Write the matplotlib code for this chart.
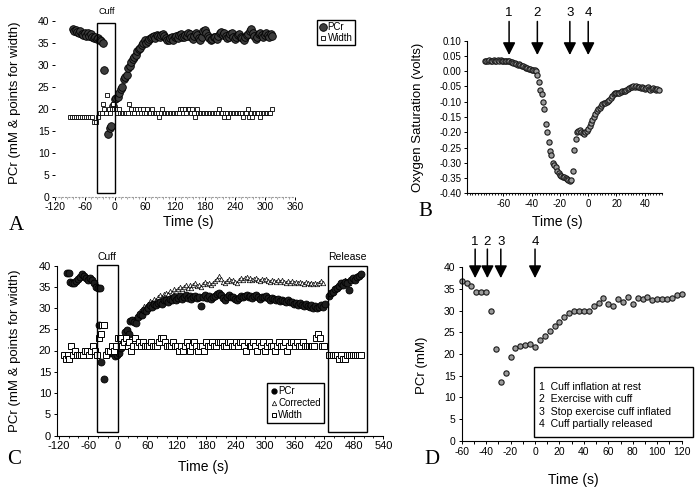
import numpy as np
import matplotlib
matplotlib.use('Agg')
import matplotlib.pyplot as plt
from matplotlib.patches import Rectangle
from matplotlib.lines import Line2D
from matplotlib.ticker import MultipleLocator, FormatStrFormatter

plt.rcParams['font.family'] = ['Liberation Sans', 'DejaVu Sans']
plt.rcParams['axes.unicode_minus'] = False

# ---------------- data ----------------
# Panel A
a_pcr_pre_start, a_pcr_step = -85, 3
a_pcr_pre = [38.0, 37.7, 37.9, 37.4, 37.2, 37.6, 37.0, 36.8, 37.3, 36.6,
             37.1, 36.5, 36.9, 36.3, 36.0, 36.4, 35.8, 36.1, 35.6, 35.3, 34.9]
a_pcr_cuff_t = [-22, -14, -10, -8]
a_pcr_cuff = [28.8, 14.3, 15.6, 16.1]
a_pcr_post_start = -4
a_pcr_post = [20.5, 22.3, 22.5, 22.6, 23.5, 24.5, 25.0, 26.8, 27.3, 27.6,
              29.2, 29.8, 30.5, 31.2, 31.8, 32.3, 33.0, 33.5, 33.8, 34.5,
              35.0, 35.6, 35.0, 35.4, 35.8, 36.0, 36.2, 36.5, 36.0, 36.8,
              36.5, 36.2, 36.8, 37.0, 36.5, 36.0, 35.7, 35.5, 36.0, 36.3,
              35.6, 36.2, 36.5, 36.0, 36.8, 37.0, 36.4, 36.2, 36.8, 36.5,
              37.3, 37.0, 36.3, 35.8, 36.5, 37.2, 36.7, 36.0, 35.7, 36.4,
              37.6, 37.8, 37.2, 36.5, 36.0, 35.6, 35.9, 36.4, 36.2, 35.8,
              36.5, 37.2, 37.4, 36.8, 37.2, 36.6, 36.0, 36.3, 37.0, 37.3,
              36.4, 35.8, 36.2, 36.8, 37.0, 36.4, 36.0, 35.7, 36.3, 36.8,
              37.0, 37.6, 38.0, 37.2, 36.5, 35.8, 36.2, 36.9, 37.3, 36.7,
              36.2, 36.8, 37.2, 36.8, 36.4, 37.0, 36.6]
a_width_pre_t = [-90, -86, -82, -78, -74, -70, -66, -62, -58, -54, -50, -46, -42, -38, -35]
a_width_pre = [18, 18, 18, 18, 18, 18, 18, 18, 18, 18, 18, 18, 17, 17, 18]
a_width_cuff_t = [-31, -27, -24, -22, -19, -16, -13, -10, -7, -4, -2]
a_width_cuff = [19, 19, 21, 20, 19, 23, 20, 19, 20, 21, 20]
a_width_post_start, a_width_step = 1, 3
a_width_post = [20, 19, 20, 19, 19, 19, 19, 19, 19, 21,
                20, 19, 19, 20, 20, 19, 20, 19, 20, 19,
                19, 20, 19, 19, 20, 19, 19, 19, 19, 18,
                19, 20, 19, 19, 19, 19, 19, 19, 19, 19,
                19, 19, 19, 20, 20, 19, 20, 19, 20, 20,
                19, 20, 19, 18, 20, 19, 19, 19, 19, 19,
                19, 19, 19, 19, 19, 19, 19, 19, 19, 20,
                19, 19, 18, 19, 19, 18, 19, 19, 19, 19,
                19, 19, 19, 19, 19, 18, 19, 19, 20, 18,
                19, 18, 19, 19, 19, 19, 18, 19, 19, 19,
                19, 19, 19, 19, 20]

# Panel B
b_start, b_step = -73, 1
b_oxy = [0.033, 0.035, 0.034, 0.036, 0.033, 0.035, 0.036, 0.034, 0.035, 0.036,
         0.035, 0.036, 0.035, 0.034, 0.035, 0.033, 0.034, 0.032, 0.030, 0.031,
         0.028, 0.026, 0.025, 0.022, 0.023, 0.020, 0.018, 0.016, 0.015, 0.012,
         0.010, 0.008, 0.006, 0.005, 0.003, 0.004, 0.000, -0.012, -0.035, -0.060,
         -0.076, -0.100, -0.125, -0.174, -0.200, -0.233, -0.260, -0.275, -0.300, -0.308,
         -0.315, -0.328, -0.334, -0.340, -0.342, -0.345, -0.348, -0.350, -0.354, -0.356,
         -0.360, -0.358, -0.327, -0.258, -0.223, -0.200, -0.195, -0.192, -0.198, -0.203,
         -0.205, -0.200, -0.195, -0.188, -0.180, -0.170, -0.160, -0.150, -0.140, -0.130,
         -0.125, -0.120, -0.115, -0.108, -0.105, -0.104, -0.100, -0.098, -0.094, -0.088,
         -0.080, -0.076, -0.072, -0.070, -0.071, -0.070, -0.068, -0.066, -0.065, -0.064,
         -0.062, -0.058, -0.055, -0.053, -0.052, -0.050, -0.051, -0.050, -0.052, -0.053,
         -0.055, -0.052, -0.056, -0.058, -0.055, -0.053, -0.057, -0.060, -0.057, -0.055,
         -0.058, -0.060, -0.058, -0.060]
b_ticks = [-60, -40, -20, 0, 20, 40]
b_arrow_t = [-56, -36, -13, 0]
b_arrow_lbl = ['1', '2', '3', '4']

# Panel C
c_step = 4
c_pcr_pre_start = -104
c_pcr_pre = [38.2, 38.2, 36.2, 36.0, 35.8, 36.4, 36.8, 37.4, 38.0, 37.6,
             37.0, 36.6, 37.0, 36.6, 35.8, 35.0, 34.8, 34.6]
c_pcr_cuff_t = [-37, -33, -28, -22, -16, -10, -5, -1]
c_pcr_cuff = [25.9, 17.4, 13.2, 19.2, 19.4, 19.5, 18.8, 19.0]
c_pcr_post_start = 2
c_pcr_post = [19.5, 20.5, 21.8, 24.4, 24.8, 24.0, 27.0, 27.2, 26.8, 26.5,
              27.8, 28.7, 28.4, 29.5, 29.2, 30.0, 30.7, 30.3, 31.0, 30.6,
              31.2, 31.5, 31.0, 31.8, 31.9, 31.4, 32.2, 31.8, 32.5, 32.0,
              32.4, 32.8, 32.2, 32.7, 33.0, 32.4, 32.8, 32.2, 32.6, 32.9,
              32.3, 32.5, 30.5, 32.6, 33.0, 32.4, 32.8, 32.2, 32.6, 32.8,
              33.2, 33.6, 33.0, 32.4, 32.0, 32.6, 33.0, 32.5, 32.7, 32.2,
              31.8, 32.4, 32.9, 32.5, 32.9, 33.1, 32.6, 32.9, 32.4, 32.8,
              33.0, 32.5, 32.2, 32.7, 32.6, 32.8, 32.3, 32.0, 32.4, 32.1,
              31.8, 32.2, 31.7, 32.0, 31.6, 31.4, 31.8, 31.3, 31.5, 31.0,
              31.2, 30.8, 31.1, 30.7, 30.5, 30.9, 30.4, 30.2, 30.6, 30.1,
              30.4, 30.0, 30.3, 30.6, 30.2, 31.0]
c_corr_start = 30
c_corr = [27.5, 27.4, 27.6, 28.5, 29.3, 29.5, 30.4, 30.5, 31.0, 31.7,
          31.5, 32.2, 31.9, 32.6, 33.0, 32.6, 33.4, 33.6, 33.2, 34.0,
          33.6, 34.4, 34.0, 34.5, 34.9, 34.4, 35.0, 35.4, 34.8, 35.3,
          34.8, 35.4, 35.8, 35.2, 35.5, 35.0, 35.7, 36.1, 35.6, 36.0,
          35.5, 36.0, 36.3, 36.8, 37.5, 36.8, 36.2, 35.8, 36.4, 36.9,
          36.4, 36.7, 36.2, 35.9, 36.5, 37.0, 36.6, 37.1, 37.2, 36.7,
          37.0, 36.5, 36.9, 37.0, 36.6, 36.3, 36.8, 36.7, 36.9, 36.4,
          36.2, 36.6, 36.4, 36.1, 36.5, 36.2, 36.5, 36.1, 36.0, 36.4,
          36.0, 36.3, 35.9, 36.2, 35.9, 36.2, 35.8, 35.7, 36.1, 35.8,
          35.6, 36.0, 35.6, 36.0, 35.7, 36.0, 36.3, 35.9]
c_rel_start = 430
c_pcr_rel = [32.8, 33.5, 33.8, 34.5, 34.7, 35.2, 35.9, 35.5, 36.2, 36.0,
             34.2, 36.6, 37.0, 36.5, 37.4, 37.6, 38.0]
c_corr_rel = [33.2, 33.9, 34.2, 34.8, 35.0, 35.6, 36.2, 35.8, 36.5, 36.3,
              36.0, 36.9, 37.2, 36.8, 37.6, 37.8, 38.2]
c_width_pre_start = -110
c_width_pre = [19, 18, 19, 18, 21, 19, 20, 19, 19, 19, 19, 20, 20, 19, 20, 21, 20, 19]
c_width_cuff_t = [-38, -34, -32, -28, -24, -20, -16, -12, -8, -4, 0]
c_width_cuff = [23, 24, 26, 26, 19, 20, 20, 21, 20, 21, 23]
c_width_post_start = 4
c_width_post = [23, 21, 22, 23, 21, 22, 20, 21, 23, 21,
                22, 21, 22, 21, 21, 21, 22, 21, 21, 21,
                22, 23, 23, 22, 21, 21, 21, 22, 21, 21,
                20, 21, 20, 21, 22, 21, 20, 21, 22, 21,
                20, 21, 21, 20, 22, 21, 21, 22, 21, 21,
                22, 22, 22, 21, 21, 22, 22, 21, 21, 22,
                21, 22, 22, 21, 20, 22, 21, 21, 22, 21,
                20, 22, 21, 22, 20, 21, 22, 21, 21, 20,
                21, 22, 21, 21, 22, 20, 21, 22, 22, 21,
                22, 21, 21, 22, 21, 21, 21, 21, 21, 21,
                23, 24, 23, 21, 21]
c_width_rel = [19, 19, 19, 19, 19, 18, 19, 18, 18, 19, 19, 19, 19, 19, 19, 19, 19]

# Panel D
d_start, d_step = -60, 4
d_pcr = [36.9, 36.4, 35.7, 34.4, 34.4, 34.4, 29.9, 21.1, 13.5, 15.7,
         19.2, 21.4, 21.8, 22.0, 22.3, 21.7, 23.2, 24.1, 25.3, 26.5,
         27.4, 28.6, 29.4, 30.0, 30.0, 30.0, 30.0, 31.1, 31.8, 33.0,
         31.5, 31.1, 32.6, 32.1, 33.2, 31.5, 33.0, 32.6, 33.2, 32.5,
         32.6, 32.8, 32.8, 33.0, 33.5, 33.8]
d_arrow_t = [-49, -39, -28, 0]
d_arrow_lbl = ['1', '2', '3', '4']
d_notes = ['1  Cuff inflation at rest', '2  Exercise with cuff',
           '3  Stop exercise cuff inflated', '4  Cuff partially released']

# ---------------- layout helpers ----------------
W, H = 700, 491
def fx(px): return px / W
def fy(py): return 1 - py / H
def rect(l, t, r, b): return [fx(l), fy(b), fx(r) - fx(l), fy(t) - fy(b)]

def tarr(start, step, vals):
    return start + step * np.arange(len(vals))

fig = plt.figure(figsize=(7, 4.91), dpi=100)
fig.patch.set_facecolor('white')
TICK = 7.5
serif = ['Liberation Serif', 'DejaVu Serif']

# ================= Panel A =================
axA = fig.add_axes(rect(55, 20.7, 295, 196.7))
pcr_kw = dict(ls='none', marker='o', ms=5.5, mfc='#3c3c3c', mec='black', mew=0.6)
wid_kw = dict(ls='none', marker='s', ms=2.8, mfc='white', mec='black', mew=0.6)
axA.plot(tarr(a_pcr_pre_start, a_pcr_step, a_pcr_pre), a_pcr_pre, **pcr_kw)
axA.plot(a_pcr_cuff_t, a_pcr_cuff, **pcr_kw)
axA.plot(tarr(a_pcr_post_start, a_pcr_step, a_pcr_post), a_pcr_post, **pcr_kw)
axA.plot(a_width_pre_t, a_width_pre, **wid_kw)
axA.plot(a_width_cuff_t, a_width_cuff, **wid_kw)
axA.plot(tarr(a_width_post_start, a_width_step, a_width_post), a_width_post, **wid_kw)
axA.add_patch(Rectangle((-36, 0.8), 36, 38.6, fill=False, ec='black', lw=1.0, zorder=5, clip_on=False))
axA.set_xlim(-120, 360)
axA.set_ylim(0, 40)
axA.xaxis.set_major_locator(MultipleLocator(60))
axA.xaxis.set_minor_locator(MultipleLocator(12))
axA.yaxis.set_major_locator(MultipleLocator(5))
for s in ['top', 'right', 'left']:
    axA.spines[s].set_visible(False)
axA.spines['bottom'].set_color('0.6')
axA.spines['bottom'].set_linestyle((0, (1, 2)))
axA.tick_params(axis='both', labelsize=TICK, length=2, width=0.7, pad=2)
axA.tick_params(axis='x', which='minor', length=1.5, color='0.6')
fig.text(fx(107), fy(12), 'Cuff', fontsize=6.5, ha='center', va='center')
axA.legend(handles=[Line2D([], [], **pcr_kw), Line2D([], [], **wid_kw)],
           labels=['PCr', 'Width'], loc='upper left', bbox_to_anchor=(fx(317), fy(20)),
           bbox_transform=fig.transFigure, fontsize=7, frameon=True, fancybox=False,
           edgecolor='black', framealpha=1, borderpad=0.2, handletextpad=0.1,
           handlelength=0.8, labelspacing=0.15, borderaxespad=0)
fig.text(fx(15), fy(103), 'PCr (mM & points for width)', rotation=90, fontsize=9.5,
         ha='center', va='center')
fig.text(fx(188), fy(222), 'Time (s)', fontsize=10, ha='center', va='center')
fig.text(fx(16), fy(226), 'A', fontsize=15, family=serif, ha='center', va='center')

# ================= Panel B =================
axB = fig.add_axes(rect(466.7, 40.7, 661.7, 193.3))
axB.plot(tarr(b_start, b_step, b_oxy), b_oxy, ls='none', marker='o', ms=3.8,
         mfc='#9a9a9a', mec='#1a1a1a', mew=0.8)
axB.set_xlim(-86, 52)
axB.set_ylim(-0.40, 0.10)
axB.set_xticks(b_ticks)
axB.xaxis.set_minor_locator(MultipleLocator(2))
axB.yaxis.set_major_locator(MultipleLocator(0.05))
axB.yaxis.set_major_formatter(FormatStrFormatter('%.2f'))
for s in ['top', 'right']:
    axB.spines[s].set_visible(False)
axB.tick_params(axis='both', labelsize=7, length=2, width=0.7, pad=2)
axB.tick_params(axis='x', which='minor', length=1.5, width=0.6)
for t, lbl in zip(b_arrow_t, b_arrow_lbl):
    axB.annotate('', xy=(t, 0.053), xytext=(t, 0.163), annotation_clip=False,
                 arrowprops=dict(arrowstyle='-|>,head_length=0.75,head_width=0.38',
                                 mutation_scale=10, lw=1.1, color='black', shrinkA=0, shrinkB=0))
    axB.text(t, 0.19, lbl, fontsize=9.5, ha='center', va='center', clip_on=False)
fig.text(fx(418), fy(117), 'Oxygen Saturation (volts)', rotation=90, fontsize=9.5,
         ha='center', va='center')
fig.text(fx(557), fy(222), 'Time (s)', fontsize=10, ha='center', va='center')
fig.text(fx(425), fy(212), 'B', fontsize=15, family=serif, ha='center', va='center')

# ================= Panel C =================
axC = fig.add_axes(rect(56.7, 265.5, 383.3, 435.5))
cp_kw = dict(ls='none', marker='o', ms=5, mfc='#1e1e1e', mec='black', mew=0.6)
cc_kw = dict(ls='none', marker='^', ms=3.2, mfc='white', mec='black', mew=0.5)
cw_kw = dict(ls='none', marker='s', ms=4, mfc='white', mec='black', mew=0.7)
axC.plot(tarr(c_corr_start, c_step, c_corr), c_corr, **cc_kw)
axC.plot(tarr(c_rel_start, c_step, c_corr_rel), c_corr_rel, **cc_kw)
axC.plot(tarr(c_pcr_pre_start, c_step, c_pcr_pre), c_pcr_pre, **cp_kw)
axC.plot(c_pcr_cuff_t, c_pcr_cuff, **cp_kw)
axC.plot(tarr(c_pcr_post_start, c_step, c_pcr_post), c_pcr_post, **cp_kw)
axC.plot(tarr(c_rel_start, c_step, c_pcr_rel), c_pcr_rel, **cp_kw)
axC.plot(tarr(c_width_pre_start, c_step, c_width_pre), c_width_pre, **cw_kw)
axC.plot(c_width_cuff_t, c_width_cuff, **cw_kw)
axC.plot(tarr(c_width_post_start, c_step, c_width_post), c_width_post, **cw_kw)
axC.plot(tarr(c_rel_start, c_step, c_width_rel), c_width_rel, **cw_kw)
axC.add_patch(Rectangle((-43, 0.9), 44, 39.3, fill=False, ec='black', lw=1.0, zorder=5, clip_on=False))
axC.add_patch(Rectangle((428, 0.8), 78, 39.1, fill=False, ec='black', lw=1.0, zorder=5, clip_on=False))
axC.set_xlim(-124, 540)
axC.set_ylim(0, 40)
axC.set_xticks(np.arange(-120, 541, 60))
axC.xaxis.set_minor_locator(MultipleLocator(20))
axC.yaxis.set_major_locator(MultipleLocator(5))
for s in ['top', 'right']:
    axC.spines[s].set_visible(False)
axC.tick_params(axis='both', labelsize=8, length=2, width=0.7, pad=2)
axC.tick_params(axis='x', which='minor', length=1.5, width=0.6)
fig.text(fx(107), fy(257), 'Cuff', fontsize=7.5, ha='center', va='center')
fig.text(fx(347), fy(257), 'Release', fontsize=7.5, ha='center', va='center')
axC.legend(handles=[Line2D([], [], ls='none', marker='o', ms=3.5, mfc='black', mec='black'),
                    Line2D([], [], **cc_kw),
                    Line2D([], [], ls='none', marker='s', ms=3.5, mfc='white', mec='black', mew=0.7)],
           labels=['PCr', 'Corrected', 'Width'], loc='upper left',
           bbox_to_anchor=(fx(266.7), fy(383.3)), bbox_transform=fig.transFigure,
           fontsize=7, frameon=True, fancybox=False, edgecolor='black', framealpha=1,
           borderpad=0.3, handletextpad=0.1, handlelength=0.8, labelspacing=0.2,
           borderaxespad=0)
fig.text(fx(15), fy(351), 'PCr (mM & points for width)', rotation=90, fontsize=9.5,
         ha='center', va='center')
fig.text(fx(203), fy(467), 'Time (s)', fontsize=10, ha='center', va='center')
fig.text(fx(14), fy(460), 'C', fontsize=15, family=serif, ha='center', va='center')

# ================= Panel D =================
axD = fig.add_axes(rect(461.7, 267.3, 681.7, 440.7))
axD.plot(tarr(d_start, d_step, d_pcr), d_pcr, ls='none', marker='o', ms=3.8,
         mfc='#9a9a9a', mec='#1a1a1a', mew=0.8, clip_on=False)
axD.set_xlim(-60, 120)
axD.set_ylim(0, 40)
axD.xaxis.set_major_locator(MultipleLocator(20))
axD.xaxis.set_minor_locator(MultipleLocator(10))
axD.yaxis.set_major_locator(MultipleLocator(5))
for s in ['top', 'right']:
    axD.spines[s].set_visible(False)
axD.tick_params(axis='both', labelsize=TICK, length=2.5, width=0.7, pad=2)
axD.tick_params(axis='x', which='minor', length=2.5, width=0.7)
for t, lbl in zip(d_arrow_t, d_arrow_lbl):
    axD.annotate('', xy=(t, 37.5), xytext=(t, 44.2), annotation_clip=False,
                 arrowprops=dict(arrowstyle='-|>,head_length=0.75,head_width=0.38',
                                 mutation_scale=10, lw=1.1, color='black', shrinkA=0, shrinkB=0))
    axD.text(t, 45.8, lbl, fontsize=9.5, ha='center', va='center', clip_on=False)
fig.add_artist(Rectangle((fx(534), fy(436.7)), fx(693.3) - fx(534), fy(367.3) - fy(436.7),
                         transform=fig.transFigure, fill=False, ec='black', lw=1.0))
for yy, note in zip([386.7, 399.3, 412.3, 424.0], d_notes):
    fig.text(fx(539), fy(yy), note, fontsize=7.6, ha='left', va='center')
fig.text(fx(421.7), fy(365), 'PCr (mM)', rotation=90, fontsize=9.5, ha='center', va='center')
fig.text(fx(573), fy(480), 'Time (s)', fontsize=10, ha='center', va='center')
fig.text(fx(432), fy(460), 'D', fontsize=15, family=serif, ha='center', va='center')

fig.savefig('out.png', dpi=100, facecolor='white')
